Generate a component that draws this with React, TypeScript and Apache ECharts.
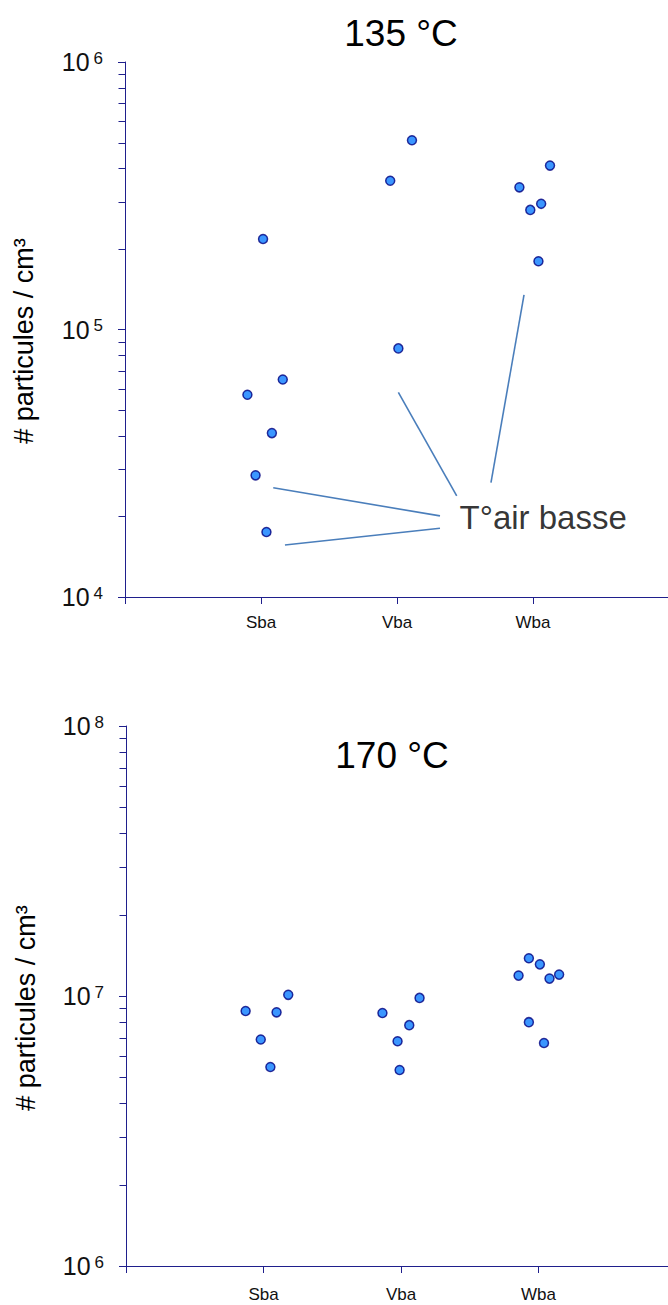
import React, { useEffect, useRef } from "react";
import * as echarts from "echarts";

// ---- data ----
const categories = ["Sba", "Vba", "Wba"];
const titles = ["135 °C", "170 °C"];
const yAxisName = "# particules / cm³";
const annotationText = "T°air basse";

// [jittered x position (category index 1..3), particles / cm³]
const sba135 = [[1.015, 2.18e5], [1.16, 6.5e4], [0.9, 5.7e4], [1.08, 4.1e4], [0.96, 2.85e4], [1.04, 1.75e4]];
const vba135 = [[1.95, 3.6e5], [2.11, 5.1e5], [2.01, 8.5e4]];
const wba135 = [[2.9, 3.4e5], [3.125, 4.1e5], [2.98, 2.8e5], [3.06, 2.95e5], [3.04, 1.8e5]];

const sba170 = [[0.87, 8.8e6], [1.18, 1.01e7], [1.095, 8.7e6], [0.98, 6.9e6], [1.05, 5.46e6]];
const vba170 = [[1.865, 8.65e6], [2.135, 9.84e6], [2.06, 7.8e6], [1.975, 6.8e6], [1.99, 5.32e6]];
const wba170 = [[2.93, 1.38e7], [3.01, 1.31e7], [2.855, 1.19e7], [3.08, 1.16e7], [3.15, 1.2e7], [2.93, 8.0e6], [3.04, 6.7e6]];

// annotation leader lines in data coordinates of the 135 °C panel
const annotationLines = [
  [[1.09, 2.56e4], [2.316, 2.01e4]],
  [[1.176, 1.565e4], [2.316, 1.806e4]],
  [[2.01, 5.82e4], [2.439, 2.386e4]],
  [[2.934, 1.346e5], [2.691, 2.675e4]],
];
const annotationAnchor = [2.46, 1.99e4];

const xTickValues = [0, 1, 2, 3];
const xLabelValues = [1, 2, 3];
const yRangeTop = [1e4, 1e6];
const yRangeBottom = [1e6, 1e8];
const minorMultipliers = [2, 3, 4, 5, 6, 7, 8, 9];
const decadesTop = [1e4, 1e5];
const decadesBottom = [1e6, 1e7];

const AXIS = "#1f1f8c";
const FONT = "Liberation Sans, Arial, sans-serif";

export default function App() {
  const ref = useRef<HTMLDivElement>(null);
  useEffect(() => {
    const chart = echarts.init(ref.current!, null, { renderer: "svg" });

    const xAxisBase = (gridIndex: number, margin: number) => ({
      type: "value",
      gridIndex,
      min: 0,
      max: 4,
      interval: 1,
      axisLine: { lineStyle: { color: AXIS, width: 1 } },
      axisTick: { show: true, length: 7, customValues: xTickValues, lineStyle: { color: AXIS } },
      splitLine: { show: false },
      axisLabel: {
        margin,
        customValues: xLabelValues,
        fontSize: 17,
        fontFamily: "Liberation Sans Narrow, Arial Narrow, Liberation Sans, Arial, sans-serif",
        color: "#111",
        formatter: (v: number) => (v >= 1 && v <= 3 ? categories[Math.round(v) - 1] : ""),
      },
    });

    const yAxisBase = (gridIndex: number, range: number[]) => ({
      type: "log",
      logBase: 10,
      gridIndex,
      min: range[0],
      max: range[1],
      axisLine: { show: true, lineStyle: { color: AXIS, width: 1 } },
      axisTick: { show: true, length: 7, lineStyle: { color: AXIS } },
      splitLine: { show: false },
      axisLabel: {
        margin: 22,
        formatter: (v: number) => `{b|10}{s|${Math.round(Math.log10(v))}}`,
        rich: {
          b: { fontSize: 25, fontFamily: FONT, color: "#111", verticalAlign: "bottom" },
          s: { fontSize: 17, fontFamily: FONT, color: "#111", verticalAlign: "top", padding: [0, 0, 0, 4] },
        },
      },
    });

    const dotStyle = {
      symbol: "circle",
      symbolSize: 9,
      itemStyle: { color: "#0a7cff", borderColor: "#000080", borderWidth: 1.5 },
    };

    const minorTicks = (decades: number[]) => {
      const out: number[][] = [];
      decades.forEach((d) => minorMultipliers.forEach((m) => out.push([0, d * m])));
      return out;
    };

    const tickSeries = (idx: number, decades: number[]) => ({
      type: "custom",
      xAxisIndex: idx,
      yAxisIndex: idx,
      clip: false,
      silent: true,
      data: minorTicks(decades),
      renderItem: (params: any, api: any) => {
        const p = api.coord([0, api.value(1)]);
        const y = Math.round(p[1]) + 0.5;
        const x = Math.round(p[0]) + 0.5;
        return {
          type: "line",
          shape: { x1: x - 7, y1: y, x2: x, y2: y },
          style: { stroke: AXIS, lineWidth: 1 },
        };
      },
    });

    const scatter = (idx: number, data: number[][]) => ({
      type: "scatter",
      xAxisIndex: idx,
      yAxisIndex: idx,
      data,
      ...dotStyle,
      z: 5,
    });

    chart.setOption({
      animation: false,
      backgroundColor: "#fff",
      textStyle: { fontFamily: FONT },
      title: [
        { text: titles[0], left: 396, top: 10, textAlign: "center", textStyle: { fontSize: 37, fontWeight: "normal", color: "#000", fontFamily: FONT } },
        { text: titles[1], left: 387, top: 732, textAlign: "center", textStyle: { fontSize: 37, fontWeight: "normal", color: "#000", fontFamily: FONT } },
      ],
      graphic: [
        { type: "text", x: 24, y: 341, rotation: Math.PI / 2, style: { text: yAxisName, fontSize: 27, fontFamily: FONT, fill: "#000", textAlign: "center", textVerticalAlign: "middle" } },
        { type: "text", x: 26, y: 1008, rotation: Math.PI / 2, style: { text: yAxisName, fontSize: 27, fontFamily: FONT, fill: "#000", textAlign: "center", textVerticalAlign: "middle" } },
      ],
      grid: [
        { left: 125, top: 62, width: 544, height: 535, containLabel: false, outerBoundsMode: "none" },
        { left: 126, top: 726, width: 550, height: 540, containLabel: false, outerBoundsMode: "none" },
      ],
      xAxis: [xAxisBase(0, 17), xAxisBase(1, 20)],
      yAxis: [yAxisBase(0, yRangeTop), yAxisBase(1, yRangeBottom)],
      series: [
        tickSeries(0, decadesTop),
        tickSeries(1, decadesBottom),
        {
          type: "lines",
          coordinateSystem: "cartesian2d",
          xAxisIndex: 0,
          yAxisIndex: 0,
          polyline: false,
          silent: true,
          data: annotationLines.map((c) => ({ coords: c })),
          lineStyle: { color: "#4a7ebb", width: 1.6, opacity: 1 },
        },
        {
          type: "scatter",
          xAxisIndex: 0,
          yAxisIndex: 0,
          symbolSize: 0,
          silent: true,
          data: [annotationAnchor],
          label: {
            show: true,
            position: "right",
            distance: 0,
            formatter: annotationText,
            fontSize: 33,
            fontFamily: FONT,
            color: "#000",
          },
        },
        scatter(0, sba135),
        scatter(0, vba135),
        scatter(0, wba135),
        scatter(1, sba170),
        scatter(1, vba170),
        scatter(1, wba170),
      ],
    });
    return () => chart.dispose();
  }, []);
  return <div ref={ref} style={{ position: "absolute", left: 0, top: 0, width: 668, height: 1305 }} />;
}
